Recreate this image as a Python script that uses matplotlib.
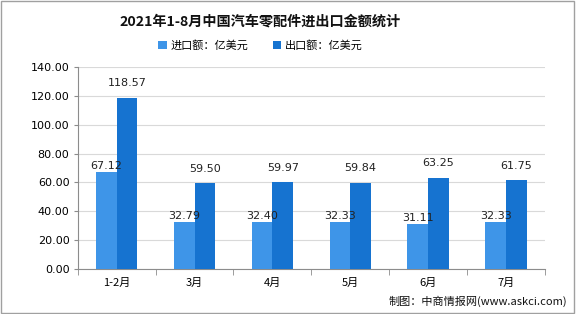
import numpy as np
import matplotlib
matplotlib.use("Agg")
import matplotlib.pyplot as plt

plt.rcParams["font.family"] = ["Noto Sans CJK SC", "DejaVu Sans"]

categories = ["1-2月", "3月", "4月", "5月", "6月", "7月"]
imports = [67.12, 32.79, 32.40, 32.33, 31.11, 32.33]
exports = [118.57, 59.50, 59.97, 59.84, 63.25, 61.75]
y_ticks = [0, 20, 40, 60, 80, 100, 120, 140]

IMP = "#3e95e8"
EXP = "#1673d0"
GRID = "#d9d9d9"
AXIS = "#8c8c8c"

fig = plt.figure(figsize=(5.76, 3.14), dpi=100)
ax = fig.add_axes([0.135, 0.143, 0.811, 0.644])

x = np.arange(len(categories))
w = 0.265
ax.bar(x - w / 2, imports, w, color=IMP, label="进口额：亿美元", zorder=3)
ax.bar(x + w / 2, exports, w, color=EXP, label="出口额：亿美元", zorder=3)

for xi, v in zip(x, imports):
    ax.text(xi - w / 2, v + 0.8, f"{v:.2f}", ha="center", va="bottom",
            fontsize=8, family="DejaVu Sans", color="#222222", zorder=4)
for xi, v in zip(x, exports):
    ax.text(xi + w / 2, v + 6.5, f"{v:.2f}", ha="center", va="bottom",
            fontsize=8, family="DejaVu Sans", color="#222222", zorder=4)

ax.set_xlim(-0.5, len(categories) - 0.5)
ax.set_ylim(0, 140)
ax.set_yticks(y_ticks)
ax.set_yticklabels([f"{t:.2f}" for t in y_ticks], family="DejaVu Sans", fontsize=8)
ax.set_xticks(x)
ax.set_xticklabels(categories, fontsize=8)
ax.set_xticks(np.arange(len(categories) + 1) - 0.5, minor=True)
ax.tick_params(axis="x", which="major", length=0, pad=6)
ax.tick_params(axis="x", which="minor", length=4, color=AXIS)
ax.tick_params(axis="y", length=3, color=AXIS, pad=3)
ax.grid(axis="y", color=GRID, lw=0.8, zorder=0)
for s in ["top", "right"]:
    ax.spines[s].set_visible(False)
for s in ["left", "bottom"]:
    ax.spines[s].set_color(AXIS)

fig.text(0.452, 0.93, "2021年1-8月中国汽车零配件进出口金额统计", ha="center", va="center",
         fontsize=10.2, fontweight="bold", color="#111111")
fig.legend(loc="center", bbox_to_anchor=(0.452, 0.855), ncol=2, frameon=False,
           fontsize=8, handlelength=0.8, handleheight=0.8, columnspacing=2.2,
           handletextpad=0.3)
fig.text(0.985, 0.04, "制图：中商情报网(www.askci.com)", ha="right", va="center",
         fontsize=8, color="#111111")

fig.patches.append(plt.Rectangle((0.002, 0.003), 0.995, 0.994, transform=fig.transFigure,
                                 fill=False, edgecolor="#a0a0a0", lw=1))
fig.savefig("out.png", dpi=100, facecolor="white")
